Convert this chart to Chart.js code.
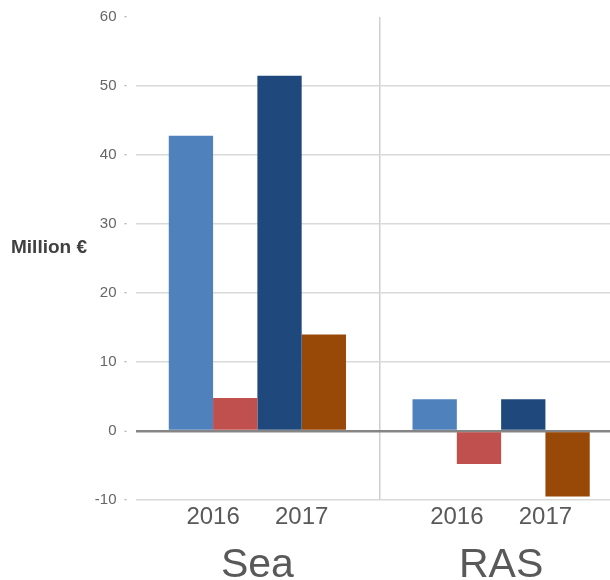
<!DOCTYPE html>
<html>
<head>
<meta charset="utf-8">
<script src="https://cdn.jsdelivr.net/npm/chart.js@4"></script>
<style>
  html, body { margin: 0; padding: 0; background: #fff; overflow: hidden; }
  #wrap { width: 623px; height: 580px; }
</style>
</head>
<body>
<div id="wrap"><canvas id="resultado"></canvas></div>
<script>
// Segmentos y años
const segmentos = ['Sea', 'RAS'];
const anios = ['2016', '2017'];
const ticksY = [-10, 0, 10, 20, 30, 40, 50, 60];

// Valores en millones de euros (Sea, RAS)
const serie2016a = [42.8, 4.6];
const serie2016b = [4.8, -4.8];
const serie2017a = [51.5, 4.6];
const serie2017b = [14.0, -9.5];

const fuente = '"Liberation Sans", Arial, sans-serif';

// Rótulo del eje Y (horizontal) y años debajo de cada par de barras
const rotulos = {
  id: 'rotulos',
  afterDraw(chart) {
    const ctx = chart.ctx;
    ctx.save();
    ctx.font = 'bold 19px ' + fuente;
    ctx.fillStyle = '#404040';
    ctx.textAlign = 'left';
    ctx.textBaseline = 'middle';
    ctx.fillText('Million €', 11, 248);

    // cada año va centrado bajo sus dos barras
    ctx.font = '24px ' + fuente;
    ctx.fillStyle = '#595959';
    ctx.textAlign = 'center';
    const y = chart.chartArea.bottom + 17;
    segmentos.forEach((_, i) => {
      anios.forEach((anio, k) => {
        const a = chart.getDatasetMeta(k * 2).data[i];
        const b = chart.getDatasetMeta(k * 2 + 1).data[i];
        ctx.fillText(anio, (a.x + b.x) / 2, y);
      });
    });
    ctx.restore();
  }
};

const ctxResultado = document.getElementById('resultado').getContext('2d');
const resultadoChart = new Chart(ctxResultado, {
  type: 'bar',
  data: {
    labels: segmentos,
    datasets: [
      { label: '2016 a', data: serie2016a, backgroundColor: '#4f81bd' },
      { label: '2016 b', data: serie2016b, backgroundColor: '#c0504d' },
      { label: '2017 a', data: serie2017a, backgroundColor: '#1f497d' },
      { label: '2017 b', data: serie2017b, backgroundColor: '#984807' }
    ]
  },
  options: {
    responsive: true,
    maintainAspectRatio: false,
    animation: false,
    categoryPercentage: 0.727,
    barPercentage: 1.0,
    layout: { padding: { top: 15, right: 0, bottom: 0, left: 0 } },
    plugins: {
      legend: { display: false },
      tooltip: { enabled: false }
    },
    scales: {
      x: {
        position: 'bottom',
        offset: true,
        border: { display: false },
        grid: {
          offset: true,
          drawTicks: false,
          lineWidth: 1.5,
          color: (c) => c.index === 1 ? '#cfcfcf' : 'rgba(0,0,0,0)'
        },
        ticks: {
          padding: 41,
          color: '#595959',
          font: { family: fuente, size: 41 }
        },
        afterFit: (s) => { s.height = 80; }
      },
      y: {
        min: -10,
        max: 60,
        afterBuildTicks: (s) => { s.ticks = ticksY.map(v => ({ value: v })); },
        border: { display: false },
        grid: {
          lineWidth: (c) => c.tick && c.tick.value === 0 ? 2.5 : 1.5,
          color: (c) => {
            if (!c.tick) return '#d9d9d9';
            if (c.tick.value === 60) return 'rgba(0,0,0,0)';
            if (c.tick.value === 0) return '#858585';
            return '#d9d9d9';
          },
          drawTicks: true,
          tickLength: 11,
          tickColor: '#9a9a9a',
          tickWidth: 1,
          tickBorderDash: [2, 100]
        },
        ticks: {
          padding: 8,
          color: '#666666',
          font: { family: fuente, size: 15 }
        },
        afterFit: (s) => { s.width = 135.5; }
      }
    }
  },
  plugins: [rotulos]
});
</script>
</body>
</html>
